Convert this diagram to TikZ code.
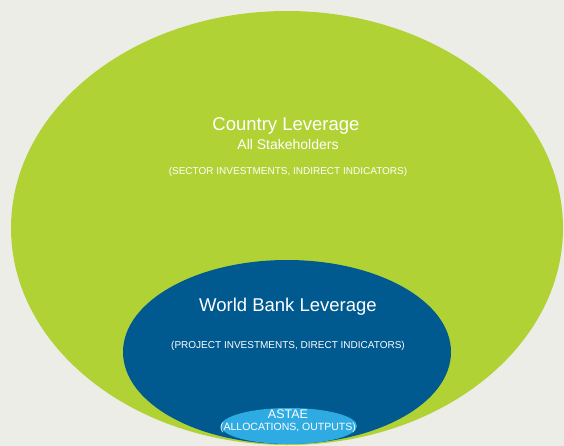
\documentclass[tikz,border=0pt]{standalone}
\usepackage{fontspec}
\setmainfont{Liberation Sans}
\definecolor{bg}{HTML}{EDEDE8}
\definecolor{lgreen}{HTML}{B1D235}
\definecolor{dblue}{HTML}{005A90}
\definecolor{lblue}{HTML}{2EABE2}
\begin{document}
\begin{tikzpicture}[x=1pt,y=-1pt,
  lbl/.style={text=white,inner sep=0pt,anchor=center}]
\fill[bg] (0,0) rectangle (564,446);
\useasboundingbox (0,0) rectangle (564,446);
\begin{scope}
\clip (0,0) rectangle (564,446);
\fill[lgreen] (287,228) ellipse [x radius=276, y radius=217];
\fill[dblue] (287,352) ellipse [x radius=164, y radius=92];
\fill[lblue] (289,426) ellipse [x radius=68, y radius=18];
\end{scope}
\node[lbl,font=\fontsize{18.5}{21}\selectfont] (cl) at (286,126) {Country Leverage};
\node[lbl,font=\fontsize{14}{16}\selectfont] (as) at (288,144) {All Stakeholders};
\node[lbl,font=\fontsize{10}{12}\selectfont] (si) at (288,172) {(SECTOR INVESTMENTS, INDIRECT INDICATORS)};
\node[lbl,font=\fontsize{18.5}{21}\selectfont] (wb) at (288,307) {World Bank Leverage};
\node[lbl,font=\fontsize{10}{12}\selectfont] (pi) at (288,346) {(PROJECT INVESTMENTS, DIRECT INDICATORS)};
\node[lbl,font=\fontsize{12.5}{14}\selectfont] (astae) at (288,414) {ASTAE};
\node[lbl,font=\fontsize{10.5}{12}\selectfont] (ao) at (288,428) {(ALLOCATIONS, OUTPUTS)};
\end{tikzpicture}
\end{document}
